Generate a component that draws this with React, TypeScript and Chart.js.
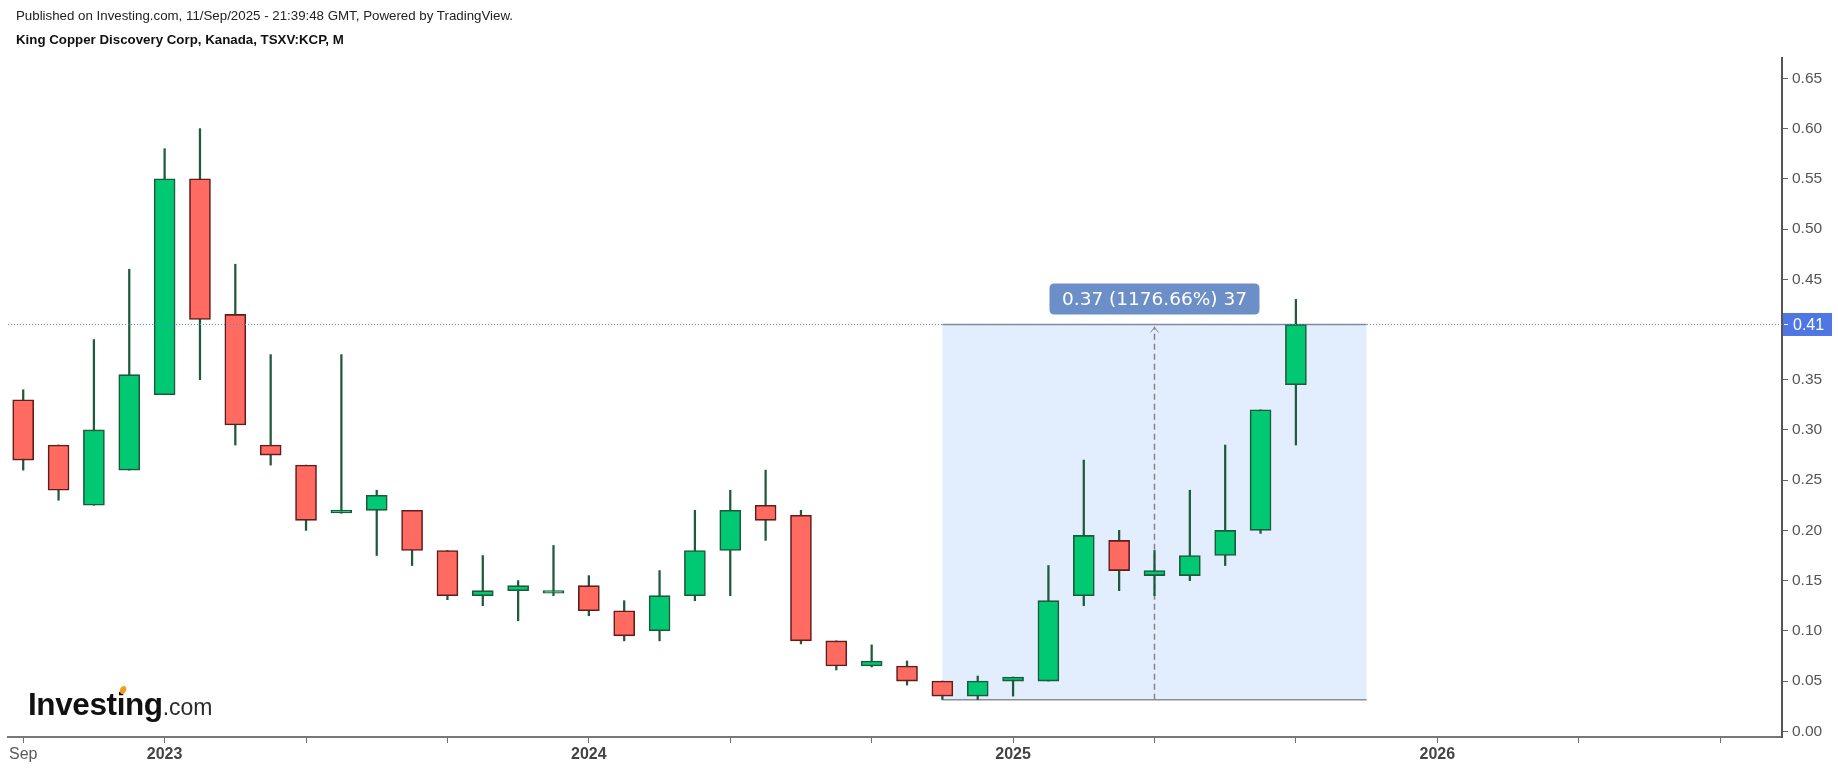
import React, { useEffect, useRef } from "react";
import { Chart, registerables } from "chart.js";

Chart.register(...registerables);

// ---- data (monthly candles, Sep 2022 .. Sep 2025) ----
const months = [
  "Sep 2022", "Oct 2022", "Nov 2022", "Dec 2022",
  "Jan 2023", "Feb 2023", "Mar 2023", "Apr 2023", "May 2023", "Jun 2023",
  "Jul 2023", "Aug 2023", "Sep 2023", "Oct 2023", "Nov 2023", "Dec 2023",
  "Jan 2024", "Feb 2024", "Mar 2024", "Apr 2024", "May 2024", "Jun 2024",
  "Jul 2024", "Aug 2024", "Sep 2024", "Oct 2024", "Nov 2024", "Dec 2024",
  "Jan 2025", "Feb 2025", "Mar 2025", "Apr 2025", "May 2025", "Jun 2025",
  "Jul 2025", "Aug 2025", "Sep 2025",
];
const openP = [
  0.33, 0.285, 0.225, 0.26,
  0.335, 0.55, 0.415, 0.285, 0.265, 0.22,
  0.22, 0.22, 0.18, 0.135, 0.14, 0.14,
  0.145, 0.12, 0.10, 0.135, 0.18, 0.225,
  0.215, 0.09, 0.065, 0.065, 0.05, 0.035,
  0.05, 0.05, 0.135, 0.19, 0.155, 0.155,
  0.175, 0.20, 0.345,
];
const highP = [
  0.34, 0.285, 0.39, 0.46,
  0.58, 0.60, 0.465, 0.375, 0.265, 0.375,
  0.24, 0.22, 0.18, 0.175, 0.15, 0.185,
  0.155, 0.13, 0.16, 0.22, 0.24, 0.26,
  0.22, 0.09, 0.086, 0.07, 0.05, 0.055,
  0.054, 0.165, 0.27, 0.20, 0.18, 0.24,
  0.285, 0.32, 0.43,
];
const lowP = [
  0.26, 0.23, 0.225, 0.26,
  0.335, 0.35, 0.285, 0.265, 0.20, 0.217,
  0.175, 0.165, 0.131, 0.125, 0.11, 0.135,
  0.115, 0.09, 0.09, 0.13, 0.135, 0.19,
  0.087, 0.061, 0.064, 0.046, 0.0315, 0.0315,
  0.035, 0.05, 0.125, 0.14, 0.135, 0.15,
  0.165, 0.197, 0.285,
];
const closeP = [
  0.27, 0.24, 0.30, 0.355,
  0.55, 0.41, 0.305, 0.275, 0.21, 0.22,
  0.235, 0.18, 0.135, 0.14, 0.145, 0.14,
  0.12, 0.095, 0.135, 0.18, 0.22, 0.21,
  0.09, 0.065, 0.07, 0.05, 0.035, 0.05,
  0.054, 0.13, 0.195, 0.16, 0.16, 0.175,
  0.20, 0.32, 0.405,
];

// axis ticks
const xTickValues = [0, 4, 8, 12, 16, 20, 24, 28, 32, 36, 40, 44, 48];
const xTickLabels = ["Sep", "2023", "", "", "2024", "", "", "2025", "", "", "2026", "", ""];
const yTickValues = [0, 0.05, 0.1, 0.15, 0.2, 0.25, 0.3, 0.35, 0.4, 0.45, 0.5, 0.55, 0.6, 0.65];

// measurement tool (Nov 2024 -> Nov 2025 range, low to last close)
const rangeStartIdx = 26;
const rangeEndIdx = 38;
const rangeLow = 0.0315;
const rangeHigh = closeP[closeP.length - 1];
const rangeLabel = "0.37 (1176.66%) 37";
const lastPriceLabel = "0.41";

const headerLine1 = "Published on Investing.com, 11/Sep/2025 - 21:39:48 GMT, Powered by TradingView.";
const headerLine2 = "King Copper Discovery Corp, Kanada, TSXV:KCP, M";

const GREEN = "#00c873";
const RED = "#ff6a61";
const GREEN_BORDER = "#1d5a3a";
const RED_BORDER = "#611c1c";
const WICK = "#1f5a3b";
const FONT = "'Liberation Sans', Arial, sans-serif";

function roundRect(ctx: CanvasRenderingContext2D, x: number, y: number, w: number, h: number, r: number) {
  ctx.beginPath();
  ctx.moveTo(x + r, y);
  ctx.lineTo(x + w - r, y);
  ctx.quadraticCurveTo(x + w, y, x + w, y + r);
  ctx.lineTo(x + w, y + h - r);
  ctx.quadraticCurveTo(x + w, y + h, x + w - r, y + h);
  ctx.lineTo(x + r, y + h);
  ctx.quadraticCurveTo(x, y + h, x, y + h - r);
  ctx.lineTo(x, y + r);
  ctx.quadraticCurveTo(x, y, x + r, y);
  ctx.closePath();
}

const rangePlugin = {
  id: "rangePlugin",
  beforeDatasetsDraw(chart: any) {
    const { ctx, scales } = chart;
    const xs = scales.x;
    const ys = scales.y;
    const x1 = xs.getPixelForValue(rangeStartIdx);
    const x2 = xs.getPixelForValue(rangeEndIdx);
    const yT = ys.getPixelForValue(rangeHigh);
    const yB = ys.getPixelForValue(rangeLow);
    ctx.save();
    ctx.fillStyle = "#e2eefd";
    ctx.fillRect(x1, yT, x2 - x1, yB - yT);
    ctx.strokeStyle = "#8d8d8d";
    ctx.lineWidth = 1.5;
    ctx.beginPath();
    ctx.moveTo(x1, yT);
    ctx.lineTo(x2, yT);
    ctx.moveTo(x1, yB);
    ctx.lineTo(x2, yB);
    ctx.stroke();
    // vertical dashed arrow
    const xm = (x1 + x2) / 2;
    ctx.strokeStyle = "#858585";
    ctx.lineWidth = 1.5;
    ctx.setLineDash([6, 4]);
    ctx.beginPath();
    ctx.moveTo(xm, yB);
    ctx.lineTo(xm, yT + 2);
    ctx.stroke();
    ctx.setLineDash([]);
    ctx.lineWidth = 1;
    ctx.beginPath();
    ctx.moveTo(xm - 4, yT + 8);
    ctx.lineTo(xm, yT + 3);
    ctx.lineTo(xm + 4, yT + 8);
    ctx.stroke();
    ctx.restore();
  },
  afterDatasetsDraw(chart: any) {
    const { ctx, scales, chartArea } = chart;
    const xs = scales.x;
    const ys = scales.y;
    const yP = ys.getPixelForValue(rangeHigh);
    ctx.save();
    // dotted last-price line
    ctx.strokeStyle = "#5a80ea";
    ctx.lineWidth = 1;
    ctx.setLineDash([1, 2]);
    ctx.beginPath();
    ctx.moveTo(chartArea.left, Math.round(yP) + 0.5);
    ctx.lineTo(chartArea.right, Math.round(yP) + 0.5);
    ctx.stroke();
    ctx.setLineDash([]);
    // label box
    const xm = (xs.getPixelForValue(rangeStartIdx) + xs.getPixelForValue(rangeEndIdx)) / 2;
    const bw = 210;
    const bh = 31;
    const by = yP - 10 - bh;
    ctx.fillStyle = "#6b8fc6";
    roundRect(ctx, xm - bw / 2, by, bw, bh, 5);
    ctx.fill();
    ctx.fillStyle = "#ffffff";
    ctx.font = "18.5px 'DejaVu Sans', Verdana, sans-serif";
    ctx.textAlign = "center";
    ctx.textBaseline = "middle";
    ctx.fillText(rangeLabel, xm, by + bh / 2 + 1);
    ctx.restore();
  },
  afterDraw(chart: any) {
    const { ctx, scales, chartArea } = chart;
    const ys = scales.y;
    const yP = ys.getPixelForValue(rangeHigh);
    ctx.save();
    const x0 = chartArea.right + 1;
    ctx.fillStyle = "#4f77e3";
    ctx.fillRect(x0, yP - 11.5, 49, 23);
    ctx.strokeStyle = "#ffffff";
    ctx.lineWidth = 1;
    ctx.beginPath();
    ctx.moveTo(x0 + 1, Math.round(yP) + 0.5);
    ctx.lineTo(x0 + 5, Math.round(yP) + 0.5);
    ctx.stroke();
    ctx.fillStyle = "#ffffff";
    ctx.font = `16px ${FONT}`;
    ctx.textAlign = "left";
    ctx.textBaseline = "middle";
    ctx.fillText(lastPriceLabel, x0 + 10, yP + 1);
    ctx.restore();
  },
};

export default function App() {
  const canvasRef = useRef<HTMLCanvasElement | null>(null);

  useEffect(() => {
    const canvas = canvasRef.current;
    if (!canvas) return;
    const isUp = (i: number) => closeP[i] >= openP[i];
    const chart = new Chart(canvas, {
      type: "bar",
      data: {
        datasets: [
          {
            label: "wick",
            data: months.map((_, i) => ({ x: i, y: [lowP[i], highP[i]] })) as any,
            backgroundColor: WICK,
            borderWidth: 0,
            barThickness: 1.6,
            grouped: false,
            order: 2,
          } as any,
          {
            label: "body",
            data: months.map((_, i) => ({ x: i, y: [openP[i], closeP[i]] })) as any,
            backgroundColor: months.map((_, i) => (isUp(i) ? GREEN : RED)),
            borderColor: months.map((_, i) => (isUp(i) ? GREEN_BORDER : RED_BORDER)),
            borderWidth: 1.6,
            borderSkipped: false,
            barThickness: 21,
            minBarLength: 2.5,
            grouped: false,
            order: 1,
          } as any,
        ],
      },
      options: {
        responsive: false,
        animation: false,
        events: [],
        layout: { padding: { left: 8, top: 58, right: 0, bottom: 0 } },
        plugins: { legend: { display: false }, tooltip: { enabled: false } },
        scales: {
          x: {
            type: "linear",
            min: -0.43,
            max: 49.75,
            offset: false,
            grid: { drawOnChartArea: false, drawTicks: true, tickLength: 6, color: "#6f6f6f", offset: false },
            border: { color: "#777777", width: 2 },
            ticks: {
              autoSkip: false,
              maxRotation: 0,
              padding: 2,
              callback: (_v: any, i: number) => xTickLabels[i],
              font: (c: any) => ({ family: FONT, size: 16, weight: c.index === 0 ? "normal" : "bold" }),
              color: (c: any) => (c.index === 0 ? "#5a5a5a" : "#444444"),
            },
            afterBuildTicks: (s: any) => {
              s.ticks = xTickValues.map((v) => ({ value: v }));
            },
            afterFit: (s: any) => {
              s.height = 33;
            },
          } as any,
          y: {
            type: "linear",
            position: "right",
            min: -0.0057,
            max: 0.6703,
            grid: { drawOnChartArea: false, drawTicks: true, tickLength: 6, color: "#666666" },
            border: { color: "#555555", width: 2 },
            ticks: {
              padding: 4,
              callback: (v: any) => Number(v).toFixed(2),
              font: { family: FONT, size: 15.5 },
              color: "#555555",
            },
            afterBuildTicks: (s: any) => {
              s.ticks = yTickValues.map((v) => ({ value: v }));
            },
            afterFit: (s: any) => {
              s.width = 56;
            },
          } as any,
        },
      },
      plugins: [rangePlugin],
    });
    return () => chart.destroy();
  }, []);

  return (
    <div style={{ position: "fixed", left: 0, top: 0, width: 1838, height: 770, background: "#ffffff", overflow: "hidden" }}>
      <canvas ref={canvasRef} width={1838} height={770} style={{ position: "absolute", left: 0, top: 0, width: 1838, height: 770 }} />
      <div style={{ position: "absolute", left: 16, top: 8, font: `13.3px ${FONT}`, lineHeight: "16px", color: "#222", whiteSpace: "nowrap" }}>
        {headerLine1}
      </div>
      <div style={{ position: "absolute", left: 16, top: 32, font: `bold 13.3px ${FONT}`, lineHeight: "16px", color: "#111", whiteSpace: "nowrap" }}>
        {headerLine2}
      </div>
      <div style={{ position: "absolute", left: 28, top: 686, whiteSpace: "nowrap", lineHeight: "31px", height: 36 }}>
        <span style={{ font: `bold 31.5px ${FONT}`, color: "#111", letterSpacing: "-0.4px" }}>Investing</span>
        <span style={{ font: `23px ${FONT}`, color: "#2a2a2a" }}>.com</span>
      </div>
      <div style={{ position: "absolute", left: 120, top: 686, width: 6, height: 8, borderRadius: "50%", background: "#f39a1e", transform: "rotate(25deg)" }} />
    </div>
  );
}
